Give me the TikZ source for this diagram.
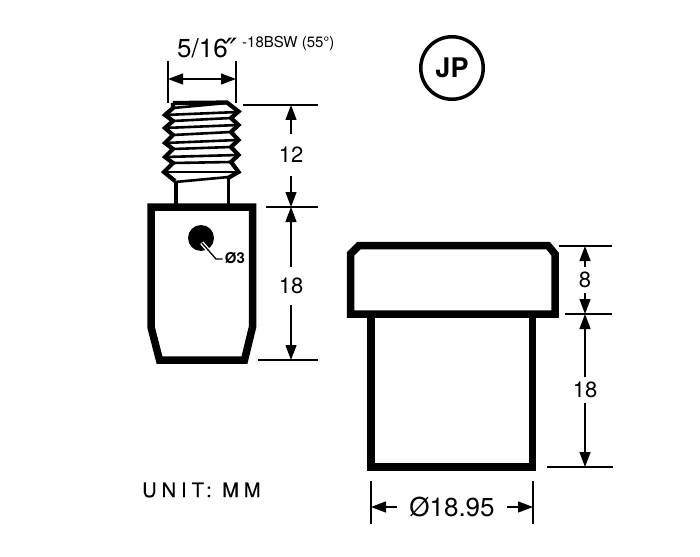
\documentclass[tikz,border=0pt]{standalone}
\usepackage{fontspec}
\setmainfont{TeX Gyre Heros}
\newfontfamily\primefont{DejaVu Sans}
\usetikzlibrary{arrows.meta}
\tikzset{
  x=1pt,y=-1pt,
  part/.style={line width=7.5pt,miter limit=10,line join=miter},
  thread/.style={line width=4.2pt,line join=miter},
  helix/.style={line width=2.6pt},
  ext/.style={line width=1.2pt},
  dim/.style={line width=1.2pt,-{Triangle[length=15pt,width=11pt]}},
  dimtext/.style={font=\fontsize{22}{24}\selectfont,inner sep=0pt,text=black},
}
\begin{document}
\begin{tikzpicture}
\useasboundingbox (0,0) rectangle (700,556);
% threaded stud: neck
\draw[line width=3.8pt] (176,181) -- (176,204);
\draw[line width=3.8pt] (228.5,178) -- (228.5,204);
% thread helix
\draw[helix] (173,108) -- (227,103);
\draw[helix] (165,115) -- (238,112);
\draw[helix] (173,121) -- (231,118);
\draw[helix] (165,128) -- (238,125);
\draw[helix] (173,135) -- (231,132);
\draw[helix] (165,143) -- (238,140);
\draw[helix] (173,149) -- (231,147);
\draw[helix] (165,157) -- (238,155);
\draw[helix] (173,163) -- (231,162);
\draw[helix] (164,172) -- (239,172);
\draw[helix] (175,182) -- (229,177);
\draw[thread] (173,103) -- (173,108) -- (165,115) -- (173,121) -- (165,128) -- (173,135) -- (165,143) -- (173,149) -- (165,157) -- (173,163) -- (164,172) -- (175,181);
\draw[thread] (173,103) -- (227,102.5) -- (238.5,111.5) -- (231,118) -- (238.5,125) -- (231,132) -- (238.5,140) -- (231,147) -- (238.5,155) -- (231,162) -- (238.5,172) -- (228,178);
% stud body
\draw[part] (151,207) -- (151,327) -- (159.5,360) -- (244.5,360) -- (252.5,327) -- (252.5,207) -- cycle;
% hole
\fill (201,238) circle (13);
\coordinate (ldA) at (201.7,242.7);
\coordinate (ldB) at (210,252.3);
\coordinate (ldC) at (216,259);
\draw[white,line width=4pt] (ldA) -- (ldB);
\draw[line width=1.3pt] (ldA) -- (ldC) -- (222.5,259);
\node[inner sep=0pt,font=\fontsize{15}{16}\selectfont\bfseries] (holeT) at (235,258) {Ø3};
% cap
\draw[part] (350.5,254) -- (359,245.5) -- (548,245.5) -- (555,254) -- (555,314) -- (350.5,314) -- cycle;
\draw[part] (371,314) -- (371,467) -- (532.5,467) -- (532.5,314);
% thread dimension
\coordinate (a1) at (168,61); \coordinate (a2) at (168,103);
\coordinate (b1) at (236,61); \coordinate (b2) at (236,103);
\coordinate (am) at (168,79); \coordinate (bm) at (236,79);
\coordinate (mid) at (202,79);
\draw[ext] (a1) -- (a2);
\draw[ext] (b1) -- (b2);
\draw[dim] (mid) -- (am);
\draw[dim] (mid) -- (bm);
\node[inner sep=0pt,anchor=west,font=\fontsize{26}{28}\selectfont] (thA) at (177,48) {5/16};
\node[inner sep=0pt,anchor=base west,font=\primefont\fontsize{32}{34}\selectfont\itshape] (thB) at (225,62) {\char"2033};
\node[inner sep=0pt,anchor=west,font=\fontsize{15}{16}\selectfont] (thC) at (242,43) {-18BSW (55°)};
% 12
\coordinate (e1) at (243,105); \coordinate (e1r) at (318,105);
\coordinate (e2) at (266,207); \coordinate (e2r) at (318,207);
\coordinate (e3) at (258,360); \coordinate (e3r) at (318,360);
\draw[ext] (e1) -- (e1r);
\draw[ext] (e2) -- (e2r);
\draw[ext] (e3) -- (e3r);
\coordinate (d1) at (291,105); \coordinate (d2) at (291,207); \coordinate (d3) at (291,360);
\node[dimtext,minimum height=42pt] (t12) at (291,155) {12};
\node[dimtext,minimum height=38pt] (t18) at (291,286) {18};
\draw[dim] (t12) -- (d1);
\draw[dim] (t12) -- (d2);
\draw[dim] (t18) -- (d2);
\draw[dim] (t18) -- (d3);
% 8 and 18
\coordinate (f1) at (559,246); \coordinate (f1r) at (612,246);
\coordinate (f2) at (565,314); \coordinate (f2r) at (612,314);
\coordinate (f3) at (547,467); \coordinate (f3r) at (613,467);
\draw[ext] (f1) -- (f1r);
\draw[ext] (f2) -- (f2r);
\draw[ext] (f3) -- (f3r);
\coordinate (g1) at (585,246); \coordinate (g2) at (585,314); \coordinate (g3) at (585,467);
\node[dimtext,minimum height=25pt] (t8) at (585,280) {8};
\node[dimtext,minimum height=25pt] (t18b) at (585,390) {18};
\draw[dim] (t8) -- (g1);
\draw[dim] (t8) -- (g2);
\draw[dim] (t18b) -- (g2);
\draw[dim] (t18b) -- (g3);
% diameter
\coordinate (h1) at (371,481); \coordinate (h1b) at (371,524);
\coordinate (h2) at (533,481); \coordinate (h2b) at (533,524);
\draw[ext] (h1) -- (h1b);
\draw[ext] (h2) -- (h2b);
\coordinate (hl) at (371,507); \coordinate (hr) at (533,507);
\node[dimtext,font=\fontsize{26}{28}\selectfont,minimum width=110pt] (tD) at (452,507) {Ø18.95};
\draw[dim] (tD) -- (hl);
\draw[dim] (tD) -- (hr);
% JP badge
\node[circle,draw,line width=3.5pt,minimum size=62.5pt,inner sep=0pt,font=\fontsize{27}{30}\selectfont\bfseries] (jp) at (452,68) {JP};
% unit
\node[inner sep=0pt,anchor=west,font=\fontsize{20}{24}\selectfont\addfontfeatures{LetterSpace=25,FakeBold=0.4}] (unit) at (142,490) {UNIT: MM};
\end{tikzpicture}
\end{document}
